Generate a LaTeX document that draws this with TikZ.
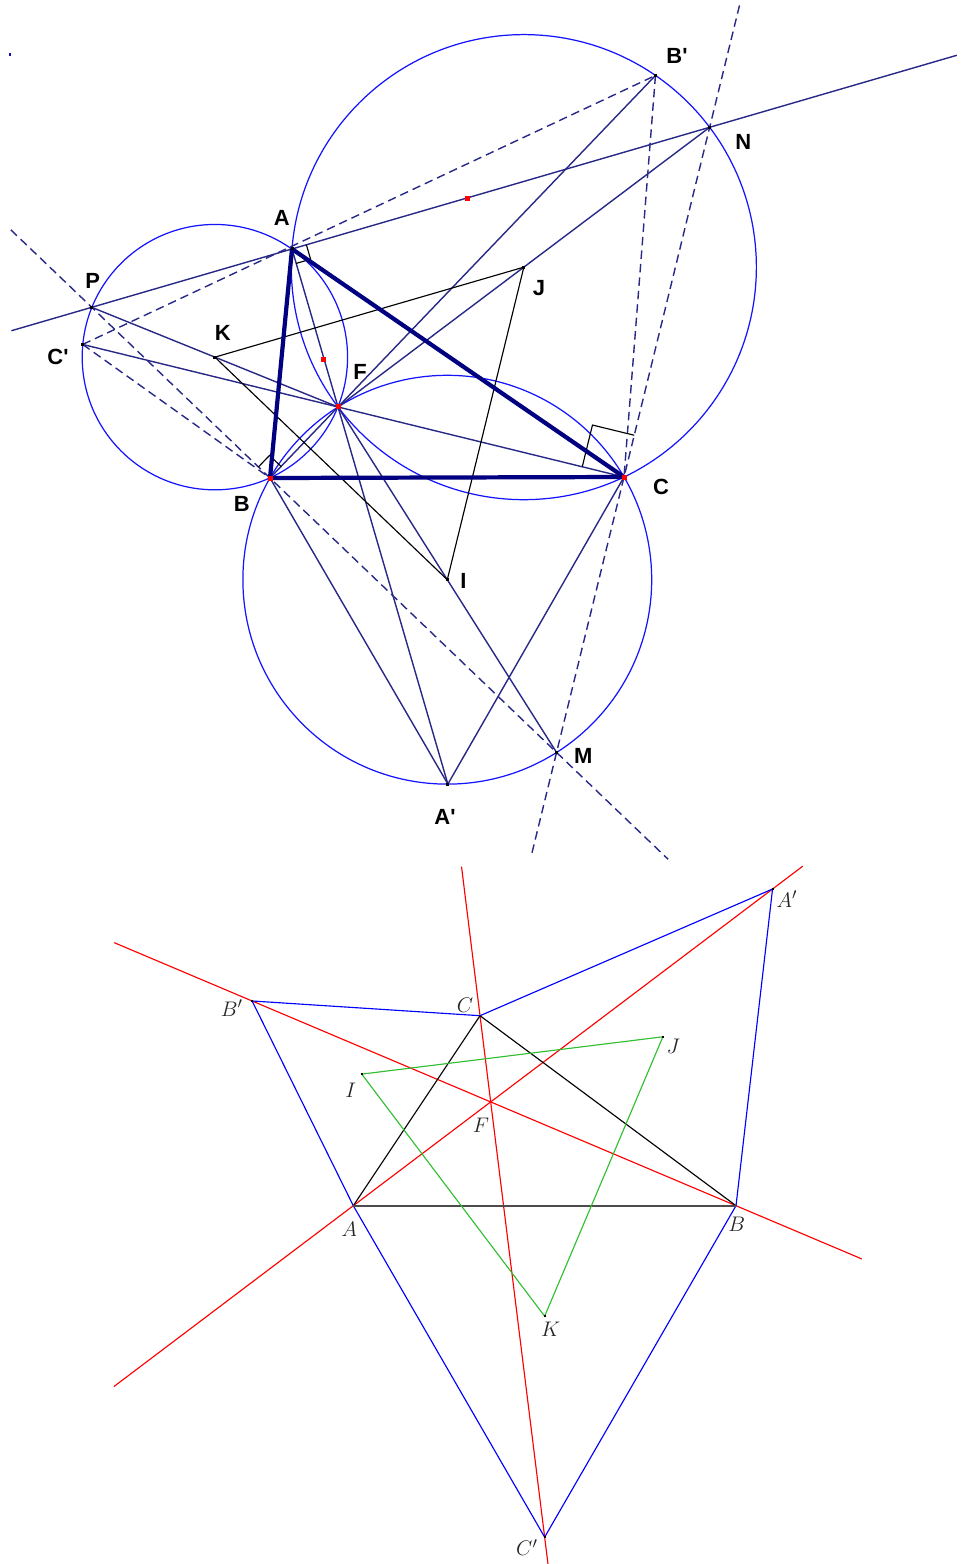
\documentclass[tikz,border=0pt]{standalone}
\usepackage{fontspec}
\setsansfont{Liberation Sans}
\usepackage{tikz}
\usetikzlibrary{calc}
\definecolor{geonavy}{RGB}{40,40,135}
\definecolor{thicknavy}{RGB}{0,0,128}
\definecolor{geoblue}{RGB}{20,20,255}
\definecolor{geogreen}{RGB}{50,190,50}

\begin{document}
\begin{tikzpicture}[x=0.02cm, y=-0.02cm,
    side/.style={line width=2.4pt, thicknavy, line join=round},
    seg/.style={line width=0.8pt, geonavy},
    perp/.style={line width=0.8pt, geonavy, dash pattern=on 0.17cm off 0.1cm},
    circ/.style={line width=0.7pt, geoblue},
    napo/.style={line width=0.65pt, black},
    dotpt/.style={rectangle, fill=black, inner sep=0pt, minimum size=0.06cm},
    reddot/.style={rectangle, fill=red, inner sep=0pt, minimum size=0.1cm},
    lbl/.style={font=\sffamily\bfseries\fontsize{12.5}{14}\selectfont},
    fermat/.style={line width=0.65pt, red},
    outer/.style={line width=0.65pt, blue},
    tri/.style={line width=0.65pt, black},
    napb/.style={line width=0.65pt, geogreen},
    smalldot/.style={rectangle, fill=black, inner sep=0pt, minimum size=0.04cm},
    ilbl/.style={font=\fontsize{12.5}{14}\selectfont, text=black!85}]

\useasboundingbox (0,0) rectangle (962,1564);

%% ===== upper figure =====
\coordinate (A) at (292,249);
\coordinate (B) at (270,478);
\coordinate (C) at (624,477);
\coordinate (Ap) at ($(B)!1!-60:(C)$);
\coordinate (Bp) at ($(C)!1!-60:(A)$);
\coordinate (Cp) at ($(A)!1!-60:(B)$);
\coordinate (I) at ($0.3333*(B)+0.3333*(C)+0.3334*(Ap)$);
\coordinate (J) at ($0.3333*(A)+0.3333*(C)+0.3334*(Bp)$);
\coordinate (K) at ($0.3333*(A)+0.3333*(B)+0.3334*(Cp)$);
\coordinate (F) at (intersection of A--Ap and B--Bp);
\coordinate (P) at ($(F)!2!(K)$);
\coordinate (N) at ($(F)!2!(J)$);
\coordinate (M) at ($(F)!2!(I)$);

%% circumcircles of the equilateral triangles
\foreach \ctr/\thr in {K/A, J/A, I/B}
    \draw[circ] let \p1 = ($(\thr)-(\ctr)$), \n1 = {veclen(\x1,\y1)} in (\ctr) circle (\n1);

%% lines through F
\draw[seg] (A) -- (Ap);
\draw[seg] (B) -- (Bp);
\draw[seg] (C) -- (Cp);
\draw[seg] (F) -- (P);
\draw[seg] (F) -- (N);
\draw[seg] (F) -- (M);
\draw[seg] (B) -- (Ap) -- (C);

%% dashed sides
\draw[perp] (Cp) -- (Bp);
\draw[perp] (Cp) -- (B);
\draw[perp] (Bp) -- (C);

%% perpendiculars at A, B, C
\draw[seg] ($(P)!-0.13!(N)$) -- ($(P)!1.40!(N)$);
\draw[perp] ($(P)!-0.174!(M)$) -- ($(P)!1.24!(M)$);
\draw[perp] ($(N)!-0.195!(M)$) -- ($(N)!1.164!(M)$);

%% Napoleon triangle
\draw[napo] (K) -- (J) -- (I) -- cycle;

%% right angle marks
\draw[napo] ($(A)!0.3cm!(F)$) -- ($(A)!0.4243cm!45:(F)$) -- ($(A)!0.3cm!(N)$);
\draw[napo] ($(B)!0.32cm!(F)$) -- ($(B)!0.4525cm!45:(F)$) -- ($(B)!0.32cm!(P)$);
\draw[napo] ($(C)!0.86cm!(F)$) -- ($(C)!1.216cm!-45:(F)$) -- ($(C)!0.86cm!(N)$);

%% triangle ABC
\draw[side] (A) -- (B) -- (C) -- cycle;

%% points
\foreach \q in {A,P,N,M,K,J,I,Ap,Bp,Cp}
    \node[dotpt] (d\q) at (\q) {};
\foreach \q in {F,B,C}
    \node[reddot] (r\q) at (\q) {};
\node[reddot] (rAF) at (323.5,359.5) {};
\node[reddot] (rPN) at (467.5,198.3) {};
\node[dotpt, fill=geoblue!70!black] (corner) at (10,55) {};

%% labels
\node[lbl] (labA)  at (281.7,218.3) {A};
\node[lbl] (labB)  at (241.7,504)   {B};
\node[lbl] (labC)  at (661,487.3)   {C};
\node[lbl] (labF)  at (360,371.7)   {F};
\node[lbl] (labP)  at (92.7,281)    {P};
\node[lbl] (labK)  at (222.7,332.7) {K};
\node[lbl] (labCp) at (58,356.5)    {C\textquotesingle};
\node[lbl] (labBp) at (677,56)      {B\textquotesingle};
\node[lbl] (labN)  at (743.3,141.7) {N};
\node[lbl] (labJ)  at (539,288.3)   {J};
\node[lbl] (labI)  at (463.3,580.7) {I};
\node[lbl] (labM)  at (583.3,756)   {M};
\node[lbl] (labAp) at (445,816.7)   {A\textquotesingle};

%% ===== lower figure =====
\coordinate (a) at (353.3,1205.7);
\coordinate (b) at (736,1205.7);
\coordinate (c) at (480,1015.7);
\coordinate (ap) at ($(b)!1!-60:(c)$);
\coordinate (bp) at ($(c)!1!-60:(a)$);
\coordinate (cp) at ($(a)!1!-60:(b)$);
\coordinate (i) at ($0.3333*(a)+0.3333*(c)+0.3334*(bp)$);
\coordinate (j) at ($0.3333*(b)+0.3333*(c)+0.3334*(ap)$);
\coordinate (k) at ($0.3333*(a)+0.3333*(b)+0.3334*(cp)$);
\coordinate (f) at (intersection of a--ap and b--bp);

%% lines through f
\draw[fermat] ($(a)!-0.571!(ap)$) -- ($(a)!1.072!(ap)$);
\draw[fermat] ($(b)!-0.260!(bp)$) -- ($(b)!1.285!(bp)$);
\draw[fermat] ($(c)!-0.286!(cp)$) -- ($(c)!1.052!(cp)$);

%% equilateral triangles
\draw[outer] (bp) -- (c) -- (ap) -- (b) -- (cp) -- (a) -- cycle;

%% triangle and centres
\draw[tri] (b) -- (c) -- (a);
\draw[tri, black!70, line width=0.9pt] (a) -- (b);
\draw[napb] (i) -- (j) -- (k) -- cycle;

\foreach \q in {i,j,k,ap,bp,cp}
    \node[smalldot] (s\q) at (\q) {};

\node[ilbl] (la)  at (349.3,1229.3) {$A$};
\node[ilbl] (lb)  at (736.7,1224)   {$B$};
\node[ilbl] (lc)  at (465,1005.7)   {$C$};
\node[ilbl] (lf)  at (481,1125)     {$F$};
\node[ilbl] (lap) at (787,899.3)    {$A'$};
\node[ilbl] (lbp) at (232,1008.3)   {$B'$};
\node[ilbl] (lcp) at (527,1547.7)   {$C'$};
\node[ilbl] (li)  at (350.7,1090)   {$I$};
\node[ilbl] (lj)  at (673.3,1046)   {$J$};
\node[ilbl] (lk)  at (550.7,1329.3) {$K$};

\end{tikzpicture}
\end{document}
